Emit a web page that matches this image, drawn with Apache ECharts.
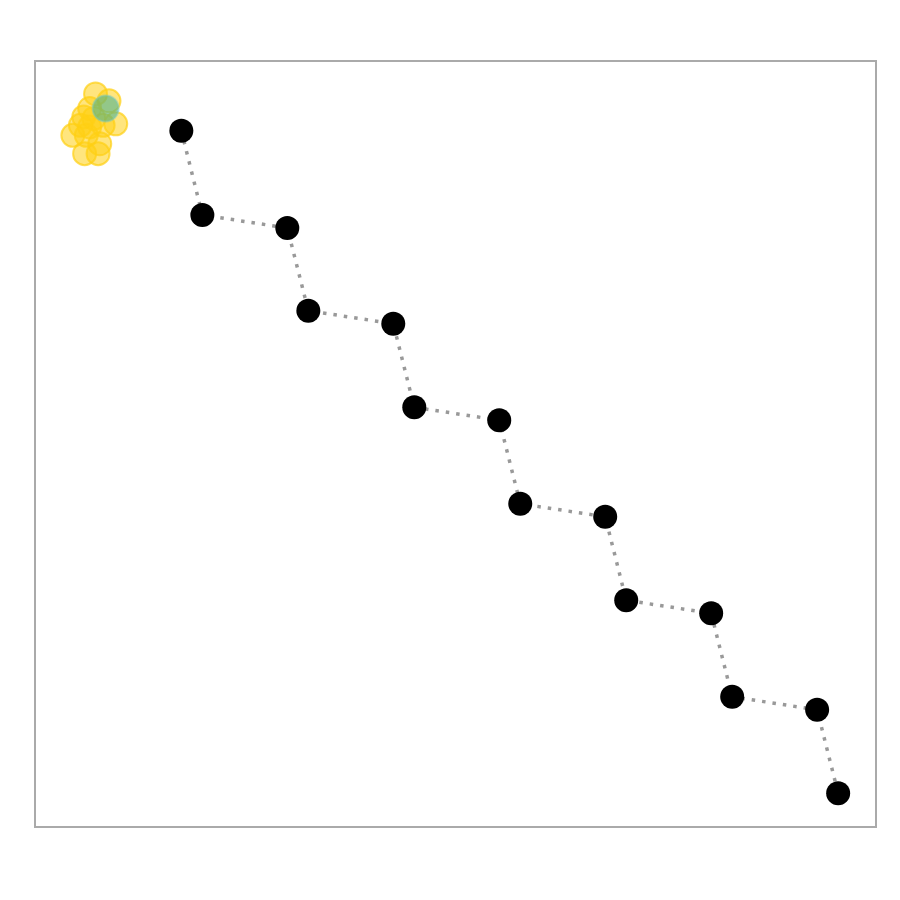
<!DOCTYPE html>
<html><head><meta charset="utf-8">
<script src="https://cdn.jsdelivr.net/npm/echarts@6/dist/echarts.min.js"></script>
<style>html,body{margin:0;padding:0;background:#fff}#c{width:900px;height:900px}</style>
</head><body><div id="c"></div>
<script>
// path points (x, y) in data units (x 0..10, y 0..10)
const pathX = [1.74, 1.99, 3.00, 3.25, 4.26, 4.51, 5.52, 5.77, 6.78, 7.03, 8.04, 8.29, 9.30, 9.55];
const pathY = [9.09, 7.99, 7.82, 6.74, 6.57, 5.48, 5.31, 4.22, 4.05, 2.96, 2.79, 1.70, 1.53, 0.44];
// cluster points
const yellowX = [0.72, 0.88, 0.58, 0.45, 0.59, 0.75, 0.77, 0.81, 0.65, 0.54, 0.61, 0.96, 0.65, 0.70];
const yellowY = [9.57, 9.48, 9.27, 9.03, 8.79, 8.79, 8.92, 9.16, 9.14, 9.16, 9.03, 9.18, 9.38, 9.25];
const tealX = [0.84];
const tealY = [9.38];

const path = pathX.map((x, i) => [x, pathY[i]]);
const yellow = yellowX.map((x, i) => [x, yellowY[i]]);
const teal = tealX.map((x, i) => [x, tealY[i]]);

const chart = echarts.init(document.getElementById('c'));
chart.setOption({
  animation: false,
  grid: {left: 35, top: 61, right: 24, bottom: 73, show: true, borderColor: '#aaaaaa', borderWidth: 2, backgroundColor: 'transparent'},
  xAxis: {type: 'value', min: 0, max: 10, show: false},
  yAxis: {type: 'value', min: 0, max: 10, show: false},
  series: [
    {type: 'line', data: path, symbol: 'none', lineStyle: {color: '#999999', width: 3.5, type: [3.5, 7]}, z: 1},
    {type: 'scatter', data: yellow, symbolSize: 23, itemStyle: {color: 'rgba(255,208,20,0.55)', borderColor: 'rgba(255,208,20,0.7)', borderWidth: 2, opacity: 1}, z: 2},
    {type: 'scatter', data: teal, symbolSize: 26, itemStyle: {color: 'rgba(40,170,150,0.5)', borderColor: 'rgba(120,200,190,0.5)', borderWidth: 2, opacity: 1}, z: 3},
    {type: 'scatter', data: path, symbolSize: 24, itemStyle: {color: '#000000', opacity: 1}, z: 4}
  ]
});
</script></body></html>
